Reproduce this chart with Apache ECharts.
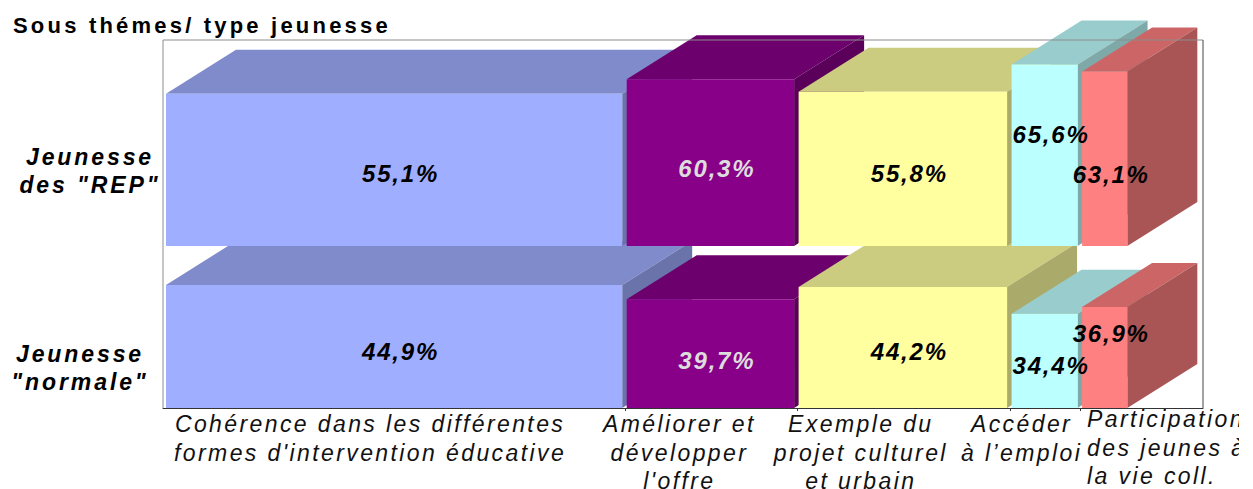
<!DOCTYPE html>
<html>
<head>
<meta charset="utf-8">
<title>Sous thémes/ type jeunesse</title>
<script src="https://cdn.jsdelivr.net/npm/echarts@6/dist/echarts.min.js"></script>
<style>
  html, body { margin: 0; padding: 0; background: #fff; overflow: hidden; }
  #chart { width: 1239px; height: 489px; }
  /* echarts has no letter spacing option, the svg texts take it from css */
  #chart text { letter-spacing: 2.4px; }
  #chart text[style*="bold"] { letter-spacing: 1.8px; }
  #chart text[style*="bold"][style*="23px"] { letter-spacing: 2.9px; }
  #chart text[style*="bold"][style*="22px"] { letter-spacing: 3.2px; }
</style>
</head>
<body>
<div id="chart"></div>
<script>
var categories = [
  "Cohérence dans les différentes\nformes d'intervention éducative",
  "Améliorer et\ndévelopper\nl'offre",
  "Exemple du\nprojet culturel\net urbain",
  "Accéder\nà l’emploi",
  "Participation\ndes jeunes à\nla vie coll."
];
var rowNames = ["Jeunesse\ndes \"REP\"", "Jeunesse\n\"normale\""];
var columnShares = [47.7, 17.8, 22.05, 7.3, 5.15];
var valuesRep = [55.1, 60.3, 55.8, 65.6, 63.1];
var valuesNormal = [44.9, 39.7, 44.2, 34.4, 36.9];

var frontColors = ["#A0AEFF", "#880088", "#FFFFA0", "#BBFFFF", "#FF8080"];
var topColors = ["#808BCC", "#6C006C", "#CCCC80", "#99CCCC", "#CC6666"];
var sideColors = ["#6A74AA", "#5A005A", "#AAAA6A", "#7FA9A9", "#AA5555"];
var labelColors = ["#000", "#DDD", "#000", "#000", "#000"];

// hand placed label shifts, in pixels from the middle of the front face
var repLabelShift = [4, 6, 5, -21, 16];
var normalLabelShift = [5, 7, 4, 5, -24];
var categoryShift = [-24, -31, -42, -23, 0];

var FONT = '"Liberation Sans", Arial, sans-serif';
var DEPTH_X = 70;
var DEPTH_Y = -44;
var GAP = 4.5;
var X_MIN = -0.31;
var X_MAX = 107.37;

var starts = [];
var sum = 0;
for (var i = 0; i < columnShares.length; i++) {
  starts.push(sum);
  sum += columnShares[i];
}

function poly(points, color) {
  return { type: "polygon", shape: { points: points }, style: { fill: color } };
}

function renderBar(params, api) {
  var i = api.value(0);
  var tl = api.coord([starts[i], api.value(1)]);
  var br = api.coord([starts[i] + columnShares[i], 0]);
  var x0 = tl[0], x1 = br[0] - GAP, top = tl[1], base = br[1];
  return {
    type: "group",
    children: [
      poly([[x0, top], [x0 + DEPTH_X, top + DEPTH_Y], [x1 + DEPTH_X, top + DEPTH_Y], [x1, top]], topColors[i]),
      poly([[x1, top], [x1 + DEPTH_X, top + DEPTH_Y], [x1 + DEPTH_X, base + DEPTH_Y], [x1, base]], sideColors[i]),
      { type: "rect", shape: { x: x0, y: top, width: x1 - x0, height: base - top }, style: { fill: frontColors[i] } }
    ]
  };
}

function renderValueLabel(params, api) {
  var i = api.value(0);
  var isRep = params.seriesName === "rep labels";
  var tl = api.coord([starts[i], api.value(1)]);
  var br = api.coord([starts[i] + columnShares[i], 0]);
  return {
    type: "text",
    style: {
      x: (tl[0] + br[0] - GAP) / 2 + 6.5,
      y: (tl[1] + br[1]) / 2 + (isRep ? repLabelShift[i] : normalLabelShift[i]),
      text: api.value(1).toFixed(1).replace(".", ",") + "%",
      fill: labelColors[i],
      textAlign: "center",
      textVerticalAlign: "middle",
      fontFamily: FONT,
      fontSize: 24,
      fontStyle: "italic",
      fontWeight: "bold"
    }
  };
}

function renderCategory(params, api) {
  var i = api.value(0);
  var last = i === categories.length - 1;
  var p = api.coord([starts[i], 0]);
  var q = api.coord([starts[i] + columnShares[i], 0]);
  return {
    type: "text",
    style: {
      x: last ? p[0] + 5 : (p[0] + q[0] - GAP) / 2 + categoryShift[i],
      y: last ? 405 : 410,
      text: categories[i],
      fill: "#111",
      textAlign: last ? "left" : "center",
      textVerticalAlign: "top",
      fontFamily: FONT,
      fontSize: 23,
      fontStyle: "italic",
      lineHeight: 28.5
    }
  };
}

function renderFrame(params, api) {
  var a = api.coord([X_MIN, 134.3]);
  var b = api.coord([X_MAX, 0]);
  return {
    type: "group",
    children: [
      { type: "polyline", shape: { points: [[a[0], b[1]], [a[0], a[1]], [b[0], a[1]]] }, style: { fill: null, stroke: "#8c8c8c", lineWidth: 1 } },
      { type: "polyline", shape: { points: [[b[0], a[1]], [b[0], b[1]]] }, style: { fill: null, stroke: "#444", lineWidth: 1 } }
    ]
  };
}

function rowLabelItem(text, x, y) {
  return {
    type: "text",
    style: {
      x: x,
      y: y,
      text: text,
      fill: "#000",
      textAlign: "center",
      textVerticalAlign: "top",
      fontFamily: FONT,
      fontSize: 23,
      fontStyle: "italic",
      fontWeight: "bold",
      lineHeight: 28
    }
  };
}

var myChart = echarts.init(document.getElementById("chart"), null, { renderer: "svg" });

myChart.setOption({
  animation: false,
  backgroundColor: "#fff",
  title: {
    text: "Sous thémes/ type jeunesse",
    left: 13,
    top: 14,
    padding: 0,
    textStyle: { fontFamily: FONT, fontSize: 22, fontWeight: "bold", color: "#000" }
  },
  grid: { left: 163, top: 40, width: 1040, height: 368 },
  xAxis: {
    type: "value",
    min: X_MIN,
    max: X_MAX,
    z: 5,
    splitLine: { show: false },
    axisLabel: { show: false },
    axisLine: { show: true, onZero: false, lineStyle: { color: "#333", width: 1 } },
    axisTick: { show: true, length: 3, lineStyle: { color: "#333" }, customValues: starts.slice(1).map(function (s) { return s - 0.15; }) }
  },
  yAxis: [
    { type: "value", show: false, min: 0, max: 134.3, splitLine: { show: false } },
    { type: "value", show: false, min: -58.6, max: 74.5, splitLine: { show: false } }
  ],
  graphic: [
    rowLabelItem(rowNames[0], 90, 143),
    rowLabelItem(rowNames[1], 80, 340)
  ],
  series: [
    { type: "custom", name: "Jeunesse normale", z: 2, yAxisIndex: 0, renderItem: renderBar, data: valuesNormal.map(function (v, i) { return [i, v]; }), encode: { x: 0, y: 1 } },
    { type: "custom", name: "Jeunesse des REP", z: 3, yAxisIndex: 1, renderItem: renderBar, data: valuesRep.map(function (v, i) { return [i, v]; }), encode: { x: 0, y: 1 } },
    { type: "custom", name: "normal labels", z: 6, yAxisIndex: 0, renderItem: renderValueLabel, data: valuesNormal.map(function (v, i) { return [i, v]; }), encode: { x: 0, y: 1 } },
    { type: "custom", name: "rep labels", z: 6, yAxisIndex: 1, renderItem: renderValueLabel, data: valuesRep.map(function (v, i) { return [i, v]; }), encode: { x: 0, y: 1 } },
    { type: "custom", name: "categories", z: 6, renderItem: renderCategory, data: categories.map(function (c, i) { return [i]; }) },
    { type: "custom", name: "frame", z: 5, renderItem: renderFrame, data: [[0]] }
  ]
});
</script>
</body>
</html>
